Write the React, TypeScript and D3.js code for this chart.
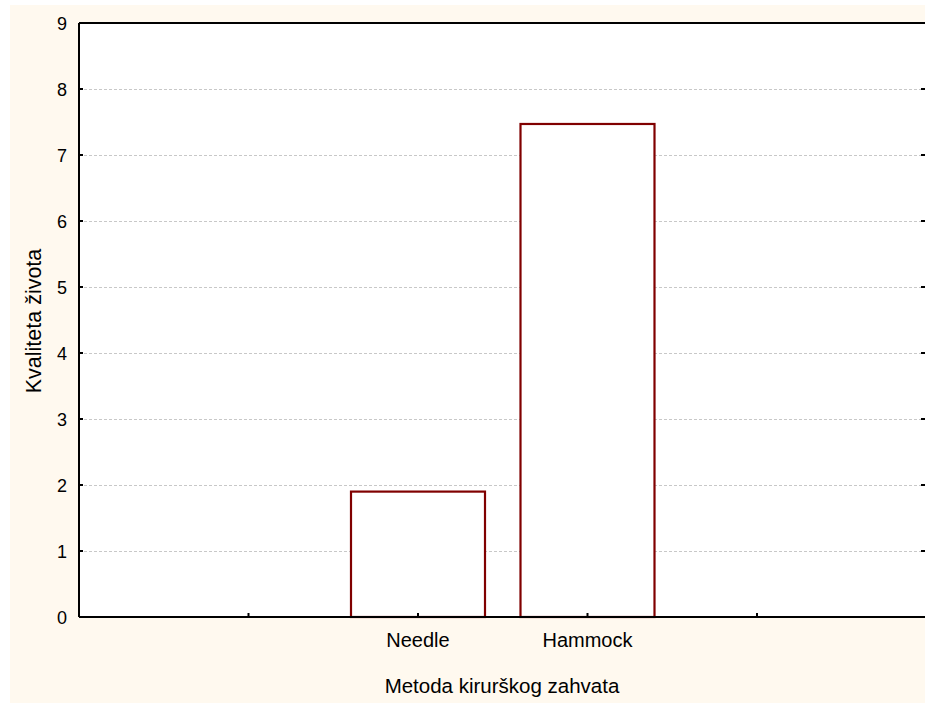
import React from "react";
import * as d3 from "d3";

const categories = ["", "Needle", "Hammock", ""];
const values = [null, 1.9, 7.47, null];
const yTicks = [0, 1, 2, 3, 4, 5, 6, 7, 8, 9];
const xTitle = "Metoda kirurškog zahvata";
const yTitle = "Kvaliteta života";

export default function App() {
  const W = 925, H = 704;
  const left = 79, right = 925, top = 23, bottom = 617;
  const x = d3.scaleLinear().domain([0, 5]).range([left, left + 169.5 * 5]);
  const y = d3.scaleLinear().domain([0, 9]).range([bottom, top]);
  const bw = 134;
  const font = "'Liberation Sans', Arial, sans-serif";
  return (
    <svg width={W} height={H} style={{ position: "absolute", left: 0, top: 0, display: "block" }}>
      <rect x={10} y={5} width={W - 10} height={H - 6} fill="#FFF9EF" />
      <rect x={left} y={top} width={right - left} height={bottom - top} fill="#ffffff" />
      {yTicks.filter(t => t > 0 && t < 9).map(t => (
        <line key={"g" + t} x1={left} x2={right} y1={Math.round(y(t)) + 0.5} y2={Math.round(y(t)) + 0.5}
          stroke="#c8c8c8" strokeWidth={1} strokeDasharray="3,2" />
      ))}
      {values.map((v, i) => v == null ? null : (
        <rect key={"b" + i} x={x(i + 1) - bw / 2} y={y(v)} width={bw} height={bottom - y(v)}
          fill="#ffffff" stroke="#800000" strokeWidth={2.2} />
      ))}
      <line x1={left} x2={right} y1={top} y2={top} stroke="#000" strokeWidth={2} />
      <line x1={left} x2={right} y1={bottom} y2={bottom} stroke="#000" strokeWidth={2} />
      <line x1={left} x2={left} y1={top} y2={bottom} stroke="#000" strokeWidth={2} />
      {yTicks.map(t => (
        <g key={"t" + t}>
          <line x1={left} x2={left + 4} y1={y(t)} y2={y(t)} stroke="#000" strokeWidth={2} />
          <line x1={right - 4} x2={right} y1={y(t)} y2={y(t)} stroke="#000" strokeWidth={2} />
          <text x={67} y={y(t) + 6.5} textAnchor="end" fontFamily={font} fontSize={18} fill="#000">{t}</text>
        </g>
      ))}
      {categories.map((c, i) => (
        <g key={"c" + i}>
          <line x1={x(i + 1)} x2={x(i + 1)} y1={bottom} y2={bottom - 4} stroke="#000" strokeWidth={2} />
          {c && <text x={x(i + 1)} y={647} textAnchor="middle" fontFamily={font} fontSize={20} fill="#000">{c}</text>}
        </g>
      ))}
      <text x={502} y={693} textAnchor="middle" fontFamily={font} fontSize={20.5} fill="#000">{xTitle}</text>
      <text transform={`translate(41,${321}) rotate(-90)`} textAnchor="middle" fontFamily={font} fontSize={21.5} fill="#000">{yTitle}</text>
    </svg>
  );
}
